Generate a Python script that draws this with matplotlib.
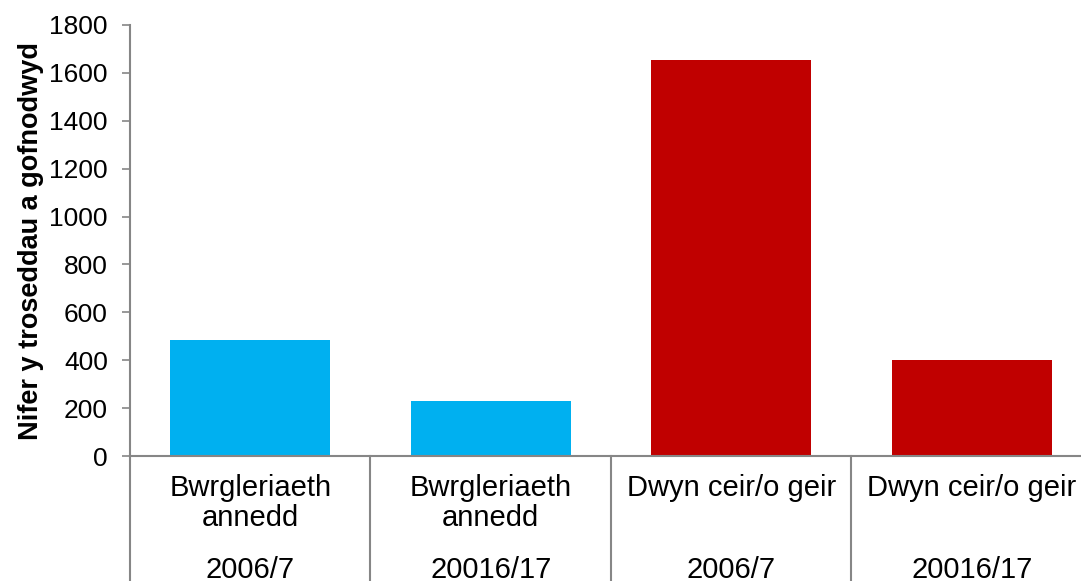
import matplotlib.pyplot as plt
import matplotlib.transforms as mtransforms

crime_types = ['Bwrgleriaeth\nannedd', 'Bwrgleriaeth\nannedd', 'Dwyn ceir/o geir', 'Dwyn ceir/o geir']
years = ['2006/7', '20016/17', '2006/7', '20016/17']
counts = [485, 231, 1655, 402]
bar_colors = ['#00B0F0', '#00B0F0', '#C00000', '#C00000']

plt.rcParams['font.family'] = ['Liberation Sans', 'DejaVu Sans']
axis_grey = '#868686'


def main():
    fig = plt.figure(figsize=(10.81, 5.81), dpi=100)
    ax = fig.add_axes([130 / 1081, 1 - 456 / 581, 962 / 1081, 431 / 581])

    x = list(range(len(counts)))
    ax.bar(x, counts, width=0.667, color=bar_colors)

    ax.set_xlim(-0.5, len(counts) - 0.5)
    ax.set_ylim(0, 1800)
    ax.set_yticks(range(0, 1801, 200))
    ax.set_xticks([])
    ax.tick_params(axis='y', labelsize=19, length=6, width=1.2, color=axis_grey, pad=10)

    for side in ['top', 'right']:
        ax.spines[side].set_visible(False)
    for side in ['left', 'bottom']:
        ax.spines[side].set_color(axis_grey)
        ax.spines[side].set_linewidth(1.5)

    ax.set_ylabel('Nifer y troseddau a gofnodwyd', fontsize=19.5, fontweight='bold', labelpad=4)

    # two-level category labels under the axis
    trans = mtransforms.blended_transform_factory(ax.transData, ax.transAxes)
    for i in x:
        ax.text(i, -0.042, crime_types[i], transform=trans, ha='center', va='top',
                fontsize=21, linespacing=1.1)
        ax.text(i, -0.264, years[i], transform=trans, ha='center', va='center', fontsize=21)
    for b in [xi - 0.5 for xi in x]:
        ax.plot([b, b], [0, -0.4], transform=trans, color=axis_grey, lw=1.5, clip_on=False)

    fig.savefig('out.png', dpi=100)


if __name__ == '__main__':
    main()
